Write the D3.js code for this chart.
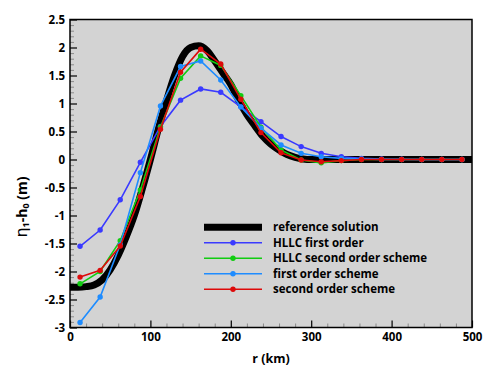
<!DOCTYPE html>
<html>
<head>
<meta charset="utf-8">
<script src="https://cdn.jsdelivr.net/npm/d3@7"></script>
<style>
  body { margin: 0; background: #fff; }
  svg { display: block; }
</style>
</head>
<body>
<svg id="chart"></svg>
<script>
// chart size
const width = 498, height = 374;
const margin = { top: 19.5, right: 26, bottom: 46.5, left: 70 };

// data
const refR = [0, 10, 20, 30, 40, 50, 60, 70, 80, 90, 100, 110, 120, 130, 140, 150, 160, 170, 180, 190, 200, 210, 220, 230, 240, 250, 260, 270, 280, 290, 300, 350, 400, 450, 500];
const refEta = [-2.28, -2.28, -2.27, -2.24, -2.15, -1.97, -1.71, -1.38, -1.0, -0.52, 0.0, 0.55, 1.05, 1.5, 1.84, 2.0, 2.03, 1.95, 1.76, 1.55, 1.34, 1.05, 0.8, 0.6, 0.41, 0.27, 0.17, 0.09, 0.04, 0.01, 0.0, 0.0, 0.0, 0.0, 0.0];

const cellR = [12.5, 37.5, 62.5, 87.5, 112.5, 137.5, 162.5, 187.5, 212.5, 237.5, 262.5, 287.5, 312.5, 337.5, 362.5, 387.5, 412.5, 437.5, 462.5, 487.5];
const hllcFirst = [-1.55, -1.26, -0.72, -0.05, 0.59, 1.06, 1.26, 1.2, 0.94, 0.675, 0.41, 0.23, 0.11, 0.05, 0.02, 0.01, 0.005, 0, 0, 0];
const hllcSecond = [-2.22, -2.0, -1.45, -0.545, 0.58, 1.45, 1.85, 1.68, 1.14, 0.575, 0.17, -0.01, -0.06, -0.02, 0, 0, 0, 0, 0, 0];
const firstOrder = [-2.91, -2.455, -1.52, -0.235, 0.955, 1.66, 1.76, 1.42, 0.94, 0.56, 0.26, 0.11, 0.05, 0.02, 0.01, 0, 0, 0, 0, 0];
const secondOrder = [-2.1, -1.98, -1.545, -0.66, 0.54, 1.56, 1.97, 1.705, 1.075, 0.48, 0.12, -0.01, -0.04, -0.02, 0, 0, 0, 0, 0, 0];

const seriesNames = ["HLLC first order", "HLLC second order scheme", "first order scheme", "second order scheme"];
const seriesColors = ["#3a3aff", "#11cc11", "#1e8cff", "#dd0a0a"];
const seriesValues = [hllcFirst, hllcSecond, firstOrder, secondOrder];

const xTicks = [0, 100, 200, 300, 400, 500];
const yTicks = [-3, -2.5, -2, -1.5, -1, -0.5, 0, 0.5, 1, 1.5, 2, 2.5];

///////////////
// scales    //
///////////////
const x = d3.scaleLinear().domain([0, 500]).range([margin.left, width - margin.right]);
const y = d3.scaleLinear().domain([-3, 2.5]).range([height - margin.bottom, margin.top]);

const svg = d3.select("#chart")
  .attr("width", width)
  .attr("height", height)
  .style("font-family", "'Open Sans', sans-serif");

// plot background
svg.append("rect")
  .attr("x", x(0)).attr("y", y(2.5))
  .attr("width", x(500) - x(0)).attr("height", y(-3) - y(2.5))
  .attr("fill", "#d3d3d3");

// minor ticks (inside, gray)
const minorX = d3.range(0, 501, 20).filter(v => v % 100 !== 0);
const minorY = d3.range(-30, 26, 1).map(v => v / 10).filter(v => Math.abs(v * 2 - Math.round(v * 2)) > 1e-6);

svg.append("g")
  .attr("transform", `translate(0,${y(-3)})`)
  .call(d3.axisBottom(x).tickValues(minorX).tickSize(-4).tickFormat(""))
  .call(g => g.select(".domain").remove())
  .call(g => g.selectAll("line").attr("stroke", "#8a8a8a"));

svg.append("g")
  .attr("transform", `translate(${x(0)},0)`)
  .call(d3.axisLeft(y).tickValues(minorY).tickSize(-4).tickFormat(""))
  .call(g => g.select(".domain").remove())
  .call(g => g.selectAll("line").attr("stroke", "#8a8a8a"));

// major ticks + labels
svg.append("g")
  .attr("transform", `translate(0,${y(-3)})`)
  .call(d3.axisBottom(x).tickValues(xTicks).tickSize(-7).tickPadding(5).tickFormat(d3.format("d")))
  .call(g => g.select(".domain").remove())
  .call(g => g.selectAll("line").attr("stroke", "#000").attr("stroke-width", 1.2))
  .call(g => g.selectAll("text").attr("fill", "#000")
    .style("font-size", "11.5px").style("font-weight", 700)
    .style("font-family", "'Open Sans', sans-serif"));

svg.append("g")
  .attr("transform", `translate(${x(0)},0)`)
  .call(d3.axisLeft(y).tickValues(yTicks).tickSize(-7).tickPadding(5).tickFormat(d => String(d)))
  .call(g => g.select(".domain").remove())
  .call(g => g.selectAll("line").attr("stroke", "#000").attr("stroke-width", 1.2))
  .call(g => g.selectAll("text").attr("fill", "#000")
    .style("font-size", "11.5px").style("font-weight", 700)
    .style("font-family", "'Open Sans', sans-serif"));

// clip for lines
svg.append("clipPath").attr("id", "plotclip")
  .append("rect")
  .attr("x", x(0)).attr("y", y(2.5))
  .attr("width", x(500) - x(0)).attr("height", y(-3) - y(2.5));

const plot = svg.append("g").attr("clip-path", "url(#plotclip)");

// reference solution
const refLine = d3.line()
  .x((d, i) => x(refR[i]))
  .y(d => y(d))
  .curve(d3.curveMonotoneX);

plot.append("path")
  .attr("d", refLine(refEta))
  .attr("fill", "none")
  .attr("stroke", "#000")
  .attr("stroke-width", 7);

// numerical series
const line = d3.line()
  .x((d, i) => x(cellR[i]))
  .y(d => y(d));

seriesValues.forEach((vals, k) => {
  const g = plot.append("g");
  g.append("path")
    .attr("d", line(vals))
    .attr("fill", "none")
    .attr("stroke", seriesColors[k])
    .attr("stroke-width", 1.6);
  g.selectAll("circle")
    .data(vals)
    .join("circle")
    .attr("cx", (d, i) => x(cellR[i]))
    .attr("cy", d => y(d))
    .attr("r", 2.7)
    .attr("fill", seriesColors[k]);
});

// frame
svg.append("rect")
  .attr("x", x(0)).attr("y", y(2.5))
  .attr("width", x(500) - x(0)).attr("height", y(-3) - y(2.5))
  .attr("fill", "none")
  .attr("stroke", "#000")
  .attr("stroke-width", 1.5);

// legend
const legend = svg.append("g").attr("transform", "translate(204,227.3)");
const legendItems = [{ name: "reference solution", color: "#000", ref: true }]
  .concat(seriesNames.map((n, i) => ({ name: n, color: seriesColors[i] })));

legendItems.forEach((it, i) => {
  const row = legend.append("g").attr("transform", `translate(0,${i * 15.5})`);
  row.append("line")
    .attr("x1", 0).attr("x2", 58)
    .attr("stroke", it.color)
    .attr("stroke-width", it.ref ? 7 : 1.6);
  if (!it.ref) {
    row.append("circle").attr("cx", 29).attr("r", 2.7).attr("fill", it.color);
  }
  row.append("text")
    .attr("x", 69).attr("dy", "0.35em")
    .style("font-size", "11.5px").style("font-weight", 700)
    .text(it.name);
});

// axis titles
svg.append("text")
  .attr("x", (x(0) + x(500)) / 2)
  .attr("y", 363)
  .attr("text-anchor", "middle")
  .style("font-size", "12.5px").style("font-weight", 700)
  .text("r (km)");

const yl = svg.append("text")
  .attr("transform", "translate(27,207) rotate(-90)")
  .attr("text-anchor", "middle")
  .style("font-size", "14px").style("font-weight", 700);
yl.append("tspan").style("font-weight", 400).style("font-size", "16px").style("font-family", "'DejaVu Sans', sans-serif").text("η");
yl.append("tspan").attr("baseline-shift", "-25%").style("font-size", "9px").text("1");
yl.append("tspan").text("-h");
yl.append("tspan").attr("baseline-shift", "-25%").style("font-size", "9px").text("0");
yl.append("tspan").text(" (m)");
</script>
</body>
</html>
